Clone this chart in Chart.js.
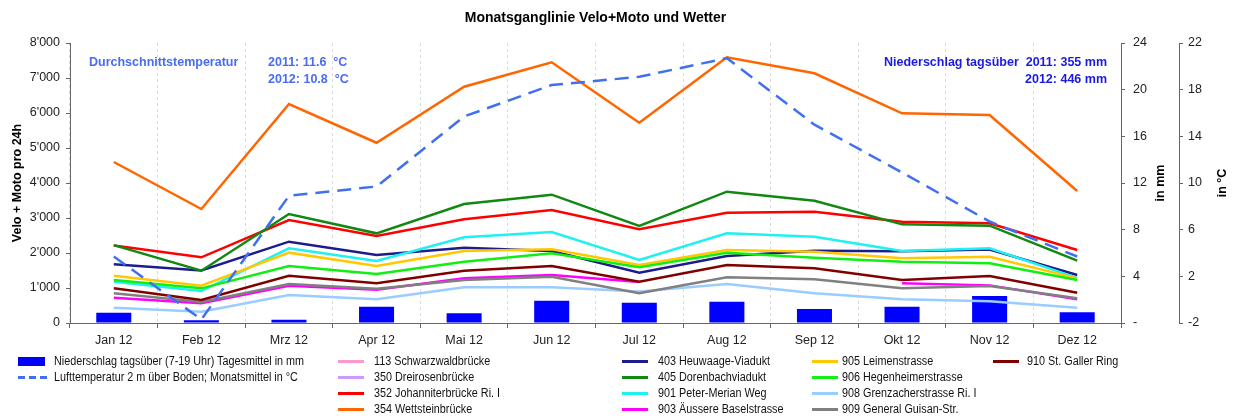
<!DOCTYPE html>
<html lang="de">
<head>
<meta charset="utf-8">
<title>Monatsganglinie Velo+Moto und Wetter</title>
<script src="https://cdn.jsdelivr.net/npm/chart.js@4.4.1/dist/chart.umd.min.js"></script>
<style>
  html, body { margin: 0; padding: 0; background: #fff; }
  #wrap { position: relative; width: 1236px; height: 416px; font-family: "Liberation Sans", Arial, sans-serif; }
  #chart { position: absolute; left: 0; top: 0; }
  .leg { position: absolute; height: 16px; white-space: nowrap; font-size: 12px; color: #111; }
  .leg .sw { position: absolute; left: 0; top: 7px; height: 3px; width: 26px; }
  .leg .txt { position: absolute; top: 0; line-height: 16px; transform: scaleX(0.9); transform-origin: left center; }
</style>
</head>
<body>
<div id="wrap">
  <canvas id="chart" width="1236" height="416"></canvas>
  <div id="legende"></div>
</div>
<script>
// Monate 2012
var monate = ["Jan 12", "Feb 12", "Mrz 12", "Apr 12", "Mai 12", "Jun 12", "Jul 12", "Aug 12", "Sep 12", "Okt 12", "Nov 12", "Dez 12"];

// Wetter: Niederschlag tagsüber (mm, Tagesmittel) und Lufttemperatur (°C, Monatsmittel)
var niederschlag = [0.88, 0.23, 0.28, 1.4, 0.83, 1.91, 1.74, 1.83, 1.2, 1.4, 2.31, 0.92];
var temperatur = [3.7, -1.7, 8.9, 9.7, 15.7, 18.4, 19.1, 20.7, 15.0, 10.9, 6.7, 3.7];

// Jahreswerte für die Textboxen
var jahre = ["2011", "2012"];
var mittelTemperatur = [11.6, 10.8];
var summeNiederschlag = [355, 446];

// Zählstellen, Velo + Moto pro 24h
var stationNamen = [
    "113 Schwarzwaldbrücke", "350 Dreirosenbrücke", "352 Johanniterbrücke Ri. I", "354 Wettsteinbrücke",
    "403 Heuwaage-Viadukt", "405 Dorenbachviadukt", "901 Peter-Merian Weg", "903 Äussere Baselstrasse",
    "905 Leimenstrasse", "906 Hegenheimerstrasse", "908 Grenzacherstrasse Ri. I", "909 General Guisan-Str.",
    "910 St. Galler Ring"
];
var s113 = [null, null, null, null, null, null, null, null, null, null, null, null];
var s350 = [null, null, null, null, null, null, null, null, null, null, null, null];
var s352 = [2215, 1876, 2943, 2486, 2962, 3229, 2676, 3152, 3181, 2895, 2848, 2086];
var s354 = [4600, 3257, 6257, 5151, 6752, 7448, 5723, 7591, 7134, 5991, 5943, 3771];
var s403 = [1676, 1500, 2324, 1943, 2152, 2057, 1438, 1914, 2067, 2050, 2100, 1371];
var s405 = [2225, 1495, 3114, 2562, 3400, 3667, 2771, 3752, 3495, 2819, 2781, 1781];
var s901 = [1180, 914, 2133, 1771, 2448, 2600, 1800, 2562, 2467, 2060, 2133, 1290];
var s903 = [724, 562, 1067, 950, 1276, 1371, 1170, null, null, 1133, 1075, 680];
var s905 = [1352, 1067, 2010, 1629, 2057, 2105, 1657, 2086, 2038, 1848, 1895, 1276];
var s906 = [1229, 990, 1629, 1400, 1752, 1990, 1590, 2010, 1867, 1752, 1705, 1229];
var s908 = [438, 324, 800, 676, 1019, 1019, 900, 1114, 848, 676, 620, 438];
var s909 = [848, 600, 1114, 980, 1229, 1324, 848, 1305, 1248, 990, 1057, 705];
var s910 = [990, 657, 1352, 1133, 1495, 1629, 1181, 1657, 1562, 1229, 1343, 867];
var stationWerte = [s113, s350, s352, s354, s403, s405, s901, s903, s905, s906, s908, s909, s910];

var stationFarben = [
    "#ff99cc", "#cc99ff", "#ff0000", "#ff6600",
    "#1c1c8c", "#118811", "#1ff0f0", "#ff00ff",
    "#ffc800", "#11ee11", "#99ccff", "#808080",
    "#800000"
];

var labelNiederschlag = "Niederschlag tagsüber (7-19 Uhr) Tagesmittel in mm";
var labelTemperatur = "Lufttemperatur 2 m über Boden; Monatsmittel in °C";
var farbeTemperatur = "#4070f0";
var farbeNiederschlag = "#0000ff";

var schrift = '"Liberation Sans", Arial, sans-serif';

// Tausender mit Apostroph
function formatZahl(v) {
    return String(v).replace(/\B(?=(\d{3})+(?!\d))/g, "'");
}

// Titel, Achsentitel und Jahreswerte direkt auf die Zeichenfläche
var textPlugin = {
    id: "texte",
    afterDraw: function (chart) {
        var ctx = chart.ctx;
        var area = chart.chartArea;
        var mitteY = (area.top + area.bottom) / 2;
        ctx.save();
        ctx.textBaseline = "middle";

        ctx.fillStyle = "#000";
        ctx.font = "bold 14px " + schrift;
        ctx.textAlign = "center";
        ctx.fillText("Monatsganglinie Velo+Moto und Wetter", (area.left + area.right) / 2, 18);

        // Achsentitel, alle von unten nach oben
        ctx.font = "bold 12.5px " + schrift;
        var achsenTitel = [["Velo + Moto pro 24h", 18], ["in mm", 1161], ["in °C", 1223]];
        achsenTitel.forEach(function (t) {
            ctx.save();
            ctx.translate(t[1], mitteY);
            ctx.rotate(-Math.PI / 2);
            ctx.fillText(t[0], 0, 0);
            ctx.restore();
        });

        ctx.font = "bold 12.5px " + schrift;
        ctx.fillStyle = "#4a6cf0";
        ctx.textAlign = "left";
        ctx.fillText("Durchschnittstemperatur", area.left + 19, area.top + 20);
        for (var i = 0; i < jahre.length; i++) {
            ctx.fillText(jahre[i] + ": " + mittelTemperatur[i].toFixed(1) + "  °C", area.left + 198, area.top + 20 + i * 17);
        }

        ctx.fillStyle = "#1a1ae6";
        ctx.textAlign = "right";
        ctx.fillText("Niederschlag tagsüber  " + jahre[0] + ": " + summeNiederschlag[0] + " mm", area.right - 14, area.top + 20);
        ctx.fillText(jahre[1] + ": " + summeNiederschlag[1] + " mm", area.right - 14, area.top + 37);
        ctx.restore();
    }
};

function baueDatasets() {
    var datasets = [];
    datasets.push({
        type: "line",
        label: labelTemperatur,
        data: temperatur,
        yAxisID: "temp",
        borderColor: farbeTemperatur,
        borderWidth: 2.5,
        borderDash: [14, 8],
        pointRadius: 0,
        order: 0
    });
    // spätere Zählstellen liegen oben
    for (var i = 0; i < stationNamen.length; i++) {
        datasets.push({
            type: "line",
            label: stationNamen[i],
            data: stationWerte[i],
            yAxisID: "y",
            borderColor: stationFarben[i],
            borderWidth: 2.5,
            pointRadius: 0,
            order: stationNamen.length - i
        });
    }
    datasets.push({
        type: "bar",
        label: labelNiederschlag,
        data: niederschlag,
        yAxisID: "mm",
        backgroundColor: farbeNiederschlag,
        barPercentage: 0.4,
        categoryPercentage: 1,
        order: 50
    });
    return datasets;
}

function baueLegende() {
    var box = document.getElementById("legende");
    var spalten = [[18, 54], [338, 374], [622, 658], [812, 842], [993, 1027]];
    var eintraege = [
        { text: labelNiederschlag, art: "bar", farbe: farbeNiederschlag },
        { text: labelTemperatur, art: "dash", farbe: farbeTemperatur }
    ];
    for (var i = 0; i < stationNamen.length; i++) {
        eintraege.push({ text: stationNamen[i], art: "line", farbe: stationFarben[i] });
    }
    eintraege.forEach(function (e, i) {
        var spalte, zeile;
        if (i < 2) {
            spalte = 0;
            zeile = i;
        } else {
            spalte = 1 + Math.floor((i - 2) / 4);
            zeile = (i - 2) % 4;
        }
        var div = document.createElement("div");
        div.className = "leg";
        div.style.left = spalten[spalte][0] + "px";
        div.style.top = (353 + zeile * 16) + "px";
        var sw = document.createElement("span");
        sw.className = "sw";
        if (e.art === "bar") {
            sw.style.top = "4px";
            sw.style.height = "9px";
            sw.style.width = "27px";
            sw.style.background = e.farbe;
        } else if (e.art === "dash") {
            sw.style.width = "30px";
            sw.style.background = "repeating-linear-gradient(to right, " + e.farbe + " 0 7px, transparent 7px 11px)";
        } else {
            sw.style.background = e.farbe;
        }
        var txt = document.createElement("span");
        txt.className = "txt";
        txt.style.left = (spalten[spalte][1] - spalten[spalte][0]) + "px";
        txt.textContent = e.text;
        div.appendChild(sw);
        div.appendChild(txt);
        box.appendChild(div);
    });
}

function zeichneChart() {
    var tickFont = { family: schrift, size: 12.5 };
    var ctx = document.getElementById("chart");
    new Chart(ctx, {
        type: "bar",
        data: { labels: monate, datasets: baueDatasets() },
        plugins: [textPlugin],
        options: {
            responsive: false,
            animation: false,
            layout: { padding: { top: 43, bottom: 69, left: 0, right: 0 } },
            plugins: {
                legend: { display: false },
                title: { display: false },
                tooltip: { enabled: false }
            },
            scales: {
                x: {
                    offset: true,
                    grid: { offset: true, color: "#dcdcdc", tickLength: 5, tickColor: "#666", tickBorderDash: [] },
                    border: { color: "#666", dash: [3, 3] },
                    ticks: { color: "#222", font: tickFont, padding: 5, maxRotation: 0 },
                    afterFit: function (s) { s.height = 24; s.paddingLeft = 0; s.paddingRight = 0; }
                },
                y: {
                    position: "left",
                    min: 0,
                    max: 8000,
                    ticks: { stepSize: 1000, color: "#222", font: tickFont, padding: 6, callback: function (v) { return formatZahl(v); } },
                    grid: { drawOnChartArea: false, tickLength: 4, tickColor: "#666" },
                    border: { color: "#666" },
                    afterFit: function (s) { s.width = 70; s.paddingTop = 0; s.paddingBottom = 0; }
                },
                mm: {
                    position: "right",
                    min: 0,
                    max: 24,
                    ticks: { stepSize: 4, color: "#222", font: tickFont, padding: 8, callback: function (v) { return v === 0 ? "-" : v; } },
                    grid: { drawOnChartArea: false, tickLength: 4, tickColor: "#666" },
                    border: { color: "#666" },
                    afterFit: function (s) { s.width = 58; s.paddingTop = 0; s.paddingBottom = 0; }
                },
                temp: {
                    position: "right",
                    min: -2,
                    max: 22,
                    ticks: { stepSize: 4, color: "#222", font: tickFont, padding: 5 },
                    grid: { drawOnChartArea: false, tickLength: 4, tickColor: "#666" },
                    border: { color: "#666" },
                    afterFit: function (s) { s.width = 57; s.paddingTop = 0; s.paddingBottom = 0; }
                }
            }
        }
    });
}

document.addEventListener("DOMContentLoaded", function () {
    zeichneChart();
    baueLegende();
});
</script>
</body>
</html>
